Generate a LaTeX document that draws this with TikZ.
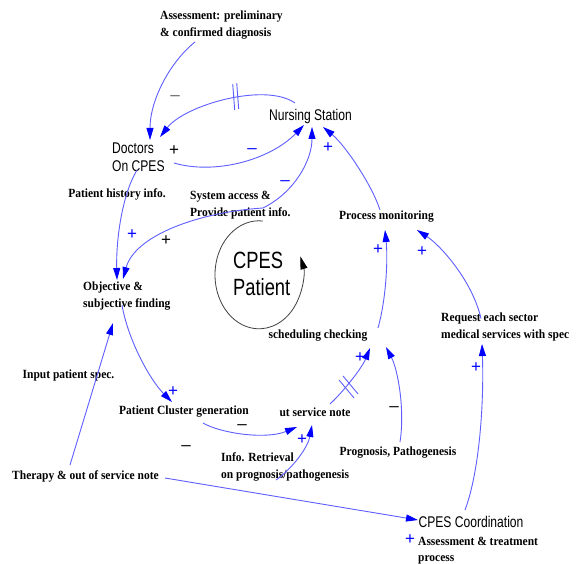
\documentclass[tikz,border=0pt]{standalone}
\usepackage{fontspec}
\usetikzlibrary{arrows.meta}
\setmainfont{Liberation Serif}
\newfontfamily\lblfont[FakeStretch=0.92]{Liberation Serif}
\newfontfamily\varfont[FakeStretch=0.78]{Liberation Sans}
\newfontfamily\signfont{Liberation Sans}
\definecolor{linkc}{RGB}{95,95,255}
\definecolor{tipc}{RGB}{0,0,255}
\tikzset{
  lbl/.style={font=\lblfont\bfseries\fontsize{12.5}{17}\selectfont, inner sep=0pt, align=left},
  var/.style={font=\varfont\fontsize{15.5}{18}\selectfont, inner sep=0pt, align=left},
  pat/.style={font=\varfont\fontsize{23.5}{27}\selectfont, inner sep=0pt, align=left},
  link/.style={draw=linkc, line width=0.9pt, -{Triangle[length=12pt,width=7pt,color=tipc]}},
  hash/.style={draw=linkc, line width=0.9pt},
  sgn/.style={font=\signfont\fontsize{17}{17}\selectfont, inner sep=0pt},
  sgnblue/.style={sgn, text=tipc},
  sgnblack/.style={sgn, text=black},
  sgngray/.style={sgn, text=black!60}
}
\begin{document}
\begin{tikzpicture}[x=1pt,y=-1pt]
\useasboundingbox (0,0) rectangle (586,564);
\fill[white] (0,0) rectangle (586,564);

% variables / labels
\node[lbl, anchor=west] (assess) at (160,25.5) {Assessment: preliminary\\\& confirmed diagnosis};
\node[var] (nurse) at (310.5,116) {Nursing Station};
\node[var, anchor=west] (doc) at (112,157) {Doctors\\On CPES};
\node[lbl] (hist) at (117,194) {Patient history info.};
\node[lbl, anchor=west] (sa) at (190,205.5) {System access \&\\Provide patient info.};
\node[lbl, anchor=west] (obj) at (83,296) {Objective \&\\subjective finding};
\node[pat, anchor=west] (patient) at (233,273.5) {CPES\\Patient};
\node[lbl] (proc) at (386.5,217) {Process monitoring};
\node[lbl] (sched) at (318,336) {scheduling checking};
\node[lbl, anchor=west] (req) at (441,326.5) {Request each sector\\medical services with spec};
\node[lbl] (input) at (68.5,375) {Input patient spec.};
\node[lbl] (cluster) at (184,412) {Patient Cluster generation};
\node[lbl] (note) at (315,412) {ut service note};
\node[lbl, anchor=west] (info) at (221,467) {Info. Retrieval\\on prognosis/pathogenesis};
\node[lbl] (therapy) at (85.5,476) {Therapy \& out of service note};
\node[lbl] (prog) at (398,453) {Prognosis, Pathogenesis};
\node[var] (coord) at (471,522) {CPES Coordination};
\node[lbl, anchor=west, font=\lblfont\bfseries\fontsize{12.5}{16}\selectfont] (treat) at (418,551) {Assessment \& treatment\\process};

% connectors
\draw[link] ([shift={(35,16.5)}]assess.west) .. controls (170,62) and (150,100) .. ([shift={(38,-17)}]doc.west);
\draw[link] ([shift={(-15.5,-13)}]nurse.center) .. controls (265,82) and (185,105) .. ([shift={(48,-20)}]doc.west);
\draw[link] ([shift={(62,6)}]doc.west) .. controls (215,175) and (270,160) .. ([shift={(-6.5,9)}]nurse.center);
\draw[link] ([shift={(73,2.5)}]sa.west) .. controls (295,192) and (312,160) .. ([shift={(1.5,11)}]nurse.center);
\draw[link] ([shift={(73,2.5)}]sa.west) .. controls (200,212) and (135,235) .. ([shift={(40,-17)}]obj.west);
\draw[link] ([shift={(25,13)}]doc.west) .. controls (122,195) and (116,240) .. ([shift={(34,-16)}]obj.west);
\draw[link] ([shift={(39,9)}]obj.west) .. controls (128,340) and (150,380) .. ([shift={(-12,-10)}]cluster.center);
\draw[link] ([shift={(-15.5,-11)}]therapy.center) -- ([shift={(30,27)}]obj.west);
\draw[link] ([shift={(19,11)}]cluster.center) .. controls (220,433) and (265,440) .. ([shift={(-18,15)}]note.center);
\draw[link] ([shift={(55,13)}]info.west) .. controls (293,468) and (308,447) .. ([shift={(-3,13)}]note.center);
\draw[link] ([shift={(15,-8)}]note.center) .. controls (343,392) and (362,368) .. ([shift={(52,12)}]sched.center);
\draw[link] ([shift={(2,-11)}]prog.center) .. controls (405,410) and (398,370) .. ([shift={(68,11)}]sched.center);
\draw[link] ([shift={(60,-8)}]sched.center) .. controls (386,300) and (388,260) .. ([shift={(-1.5,13)}]proc.center);
\draw[link] ([shift={(40,-8)}]req.west) .. controls (472,280) and (440,245) .. ([shift={(30.5,13)}]proc.center);
\draw[link] ([shift={(-6,-12)}]coord.center) .. controls (480,470) and (484,400) .. ([shift={(41,17.5)}]req.west);
\draw[link] ([shift={(79.5,2)}]therapy.center) -- ([shift={(-53,-2)}]coord.center);
\draw[link] ([shift={(-6.5,-7)}]proc.center) .. controls (372,185) and (345,145) .. ([shift={(12.5,11)}]nurse.center);

% delay marks
\draw[hash] (232.7,84) -- (234.7,110);
\draw[hash] (236.7,83) -- (238.7,109);
\draw[hash] (339,380) -- (354,398);
\draw[hash] (343,376) -- (358,394);

% CPES patient loop
\draw[line width=0.8pt, draw=black!75, -{Triangle[length=13pt,width=7pt,color=black]}] (262.8,221) arc[start angle=275, end angle=-20, x radius=44, y radius=54];

% polarity signs
\node[sgngray] (s1) at (175,98) {–};
\node[sgnblack] (s2) at (174,151) {+};
\node[sgnblue] (s3) at (252,151) {–};
\node[sgnblue] (s4) at (328,148) {+};
\node[sgnblue] (s5) at (285,183) {–};
\node[sgnblue] (s6) at (132,235) {+};
\node[sgnblack] (s7) at (166,241) {+};
\node[sgnblue] (s8) at (173,392) {+};
\node[sgnblack] (s9) at (242,427) {–};
\node[sgnblack] (s10) at (186,448) {–};
\node[sgnblue] (s11) at (302,440) {+};
\node[sgnblue] (s12) at (360,358) {+};
\node[sgnblack] (s13) at (394,409) {–};
\node[sgnblue] (s14) at (378,250) {+};
\node[sgnblue] (s15) at (422,252) {+};
\node[sgnblue] (s16) at (476,368) {+};
\node[sgnblue] (s17) at (410,540) {+};
\end{tikzpicture}
\end{document}
